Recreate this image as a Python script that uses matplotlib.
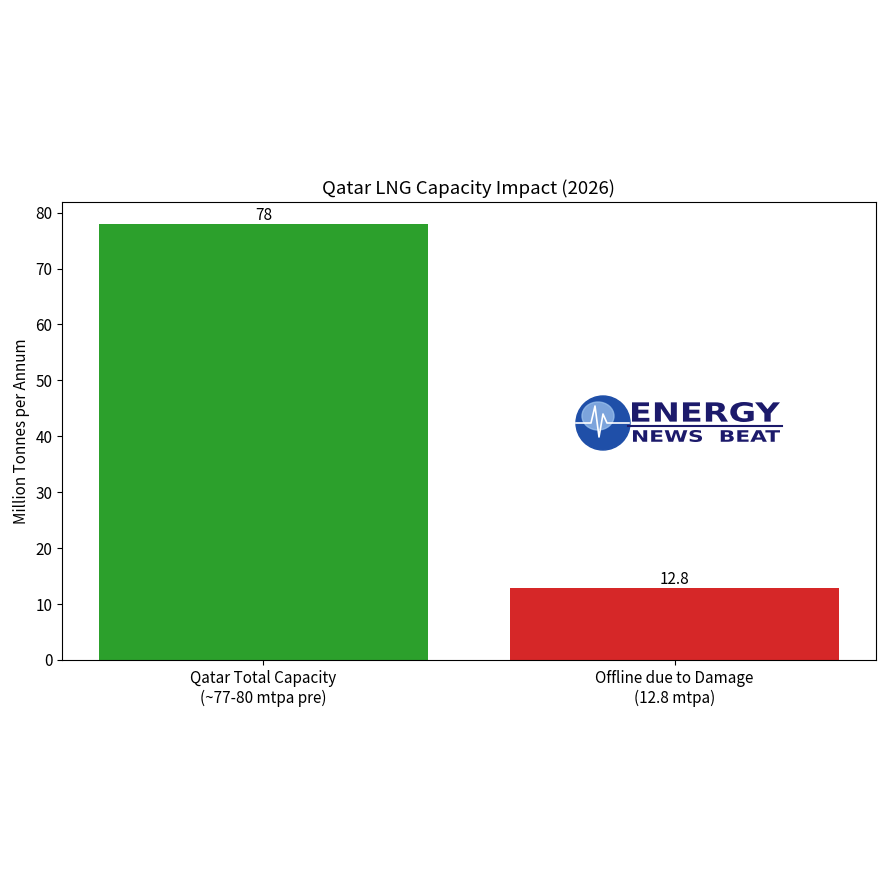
import matplotlib
matplotlib.use("Agg")
import matplotlib.pyplot as plt
from matplotlib.patches import Ellipse, PathPatch
from matplotlib.textpath import TextPath
from matplotlib.font_manager import FontProperties
from matplotlib.transforms import Affine2D

plt.rcParams['font.family'] = ['Noto Sans CJK JP', 'DejaVu Sans']

categories = ["Qatar Total Capacity\n(~77-80 mtpa pre)", "Offline due to Damage\n(12.8 mtpa)"]
values = [78, 12.8]
value_labels = ["78", "12.8"]
colors = ["#2ca02c", "#d62728"]

fig = plt.figure(figsize=(8.87, 8.86), dpi=100)
ax = fig.add_axes([62 / 887, 1 - 660 / 886, 814 / 887, 458 / 886])

bars = ax.bar(categories, values, color=colors)
for b, lab in zip(bars, value_labels):
    ax.text(b.get_x() + b.get_width() / 2, b.get_height(), lab,
            ha="center", va="bottom", fontsize=11)

ax.set_title("Qatar LNG Capacity Impact (2026)", fontsize=13.4)
ax.set_ylabel("Million Tonnes per Annum", fontsize=11)
ax.tick_params(labelsize=11)

# logo approximation (Energy News Beat)
navy = "#1c1a6b"
lax = fig.add_axes([573 / 887, 1 - 453 / 886, 212 / 887, 58 / 886])
lax.set_xlim(0, 212)
lax.set_ylim(58, 0)
lax.axis("off")
lax.add_patch(Ellipse((30, 28), 54, 54, color="#1f4fa8"))
lax.add_patch(Ellipse((25, 21), 32, 28, color="#9cc2ee", alpha=0.75))
lax.plot([3, 18, 22, 26, 30, 34, 56], [28, 28, 11, 42, 19, 28, 28], color="white", lw=1.2)


def fit_word(word, x0, x1, y_top, y_bot):
    fp = FontProperties(family="DejaVu Sans", weight="bold")
    tp = TextPath((0, 0), word, size=1, prop=fp)
    ext = tp.get_extents()
    sx = (x1 - x0) / ext.width
    sy = (y_bot - y_top) / ext.height
    tr = Affine2D().translate(-ext.x0, -ext.y0).scale(sx, -sy).translate(x0, y_bot)
    lax.add_patch(PathPatch(tr.transform_path(tp), color=navy, lw=0))


fit_word("ENERGY", 59, 207, 7, 27)
lax.plot([55, 209], [30.5, 30.5], color=navy, lw=1.5)
fit_word("NEWS  BEAT", 60, 207, 35, 47)

fig.savefig("out.png", dpi=100)
